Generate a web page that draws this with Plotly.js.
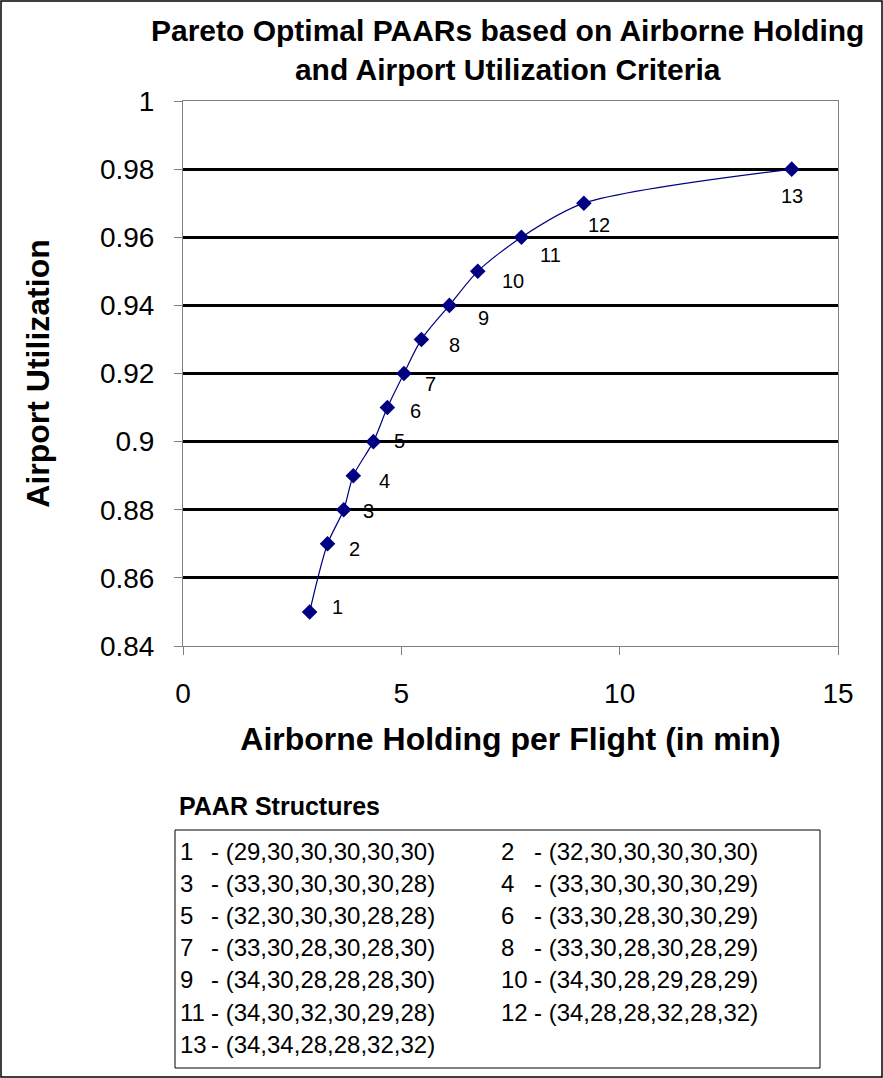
<!DOCTYPE html>
<html><head><meta charset="utf-8">
<script src="https://cdn.plot.ly/plotly-3.0.1.min.js"></script>
<style>html,body{margin:0;padding:0;background:#fff}#chart{width:883px;height:1078px}</style>
</head><body><div id="chart"></div>
<script>
// ---- data ----
const holding = [2.90, 3.31, 3.68, 3.90, 4.36, 4.68, 5.06, 5.46, 6.10, 6.75, 7.75, 9.18, 13.94];
const utilization = [0.85, 0.87, 0.88, 0.89, 0.90, 0.91, 0.92, 0.93, 0.94, 0.95, 0.96, 0.97, 0.98];
const pointLabels = ['1','2','3','4','5','6','7','8','9','10','11','12','13'];
const paarIds = ['1','2','3','4','5','6','7','8','9','10','11','12','13'];
const paarStructures = [
  '(29,30,30,30,30,30)', '(32,30,30,30,30,30)',
  '(33,30,30,30,30,28)', '(33,30,30,30,30,29)',
  '(32,30,30,30,28,28)', '(33,30,28,30,30,29)',
  '(33,30,28,30,28,30)', '(33,30,28,30,28,29)',
  '(34,30,28,28,28,30)', '(34,30,28,29,28,29)',
  '(34,30,32,30,29,28)', '(34,28,28,32,28,32)',
  '(34,34,28,28,32,32)'
];
const xTickVals = [0, 5, 10, 15];
const xTickText = ['0', '5', '10', '15'];
const yTickVals = [0.84, 0.86, 0.88, 0.90, 0.92, 0.94, 0.96, 0.98, 1.00];
const yTickText = ['0.84', '0.86', '0.88', '0.9', '0.92', '0.94', '0.96', '0.98', '1'];
const chartTitle = 'Pareto Optimal PAARs based on Airborne Holding<br>and Airport Utilization Criteria';
const legendTitle = 'PAAR Structures';

// ---- layout geometry (pixels) ----
const W = 883, H = 1078, L = 183, R = 45, T = 101, B = 432;
const pw = W - L - R, ph = H - T - B;
const px = x => (x - L) / pw;
const py = y => (H - B - y) / ph;
const FONT = 'Arial, "Liberation Sans", sans-serif';

// label offsets (px) relative to each point
const labelDX = [28, 27, 25, 31, 26, 28, 27, 33, 34, 35, 29, 15, 0];
const labelDY = [5, -5, -1, -5, 1, -3, -10, -6, -13, -10, -18, -22, -27];

const annotations = [];
pointLabels.forEach((t, i) => {
  annotations.push({
    x: holding[i], y: utilization[i], xref: 'x', yref: 'y',
    text: t, showarrow: false, xshift: labelDX[i], yshift: labelDY[i],
    font: {family: FONT, size: 20, color: '#000'}
  });
});

// chart title
annotations.push({
  xref: 'paper', yref: 'paper', x: px(507), y: py(12), xanchor: 'center', yanchor: 'top',
  text: '<b>' + chartTitle + '</b>', showarrow: false, align: 'center',
  font: {family: FONT, size: 30, color: '#000'}
});

// PAAR structures box
annotations.push({
  xref: 'paper', yref: 'paper', x: px(177), y: py(806), xanchor: 'left', yanchor: 'middle',
  text: '<b>' + legendTitle + '</b>', showarrow: false,
  font: {family: FONT, size: 25, color: '#000'}
});

const colNumX = [178, 499];
const colTextX = [209, 532];
const rowY0 = 851, rowStep = 32.2;
paarStructures.forEach((s, i) => {
  const col = i % 2, row = Math.floor(i / 2);
  const yy = py(rowY0 + row * rowStep);
  annotations.push({
    xref: 'paper', yref: 'paper', x: px(colNumX[col]), y: yy, xanchor: 'left', yanchor: 'middle',
    text: paarIds[i], showarrow: false, font: {family: FONT, size: 24, color: '#000'}
  });
  annotations.push({
    xref: 'paper', yref: 'paper', x: px(colTextX[col]), y: yy, xanchor: 'left', yanchor: 'middle',
    text: '- ' + s, showarrow: false, font: {family: FONT, size: 24, color: '#000'}
  });
});

const shapes = [
  {type: 'rect', xref: 'paper', yref: 'paper', x0: px(175), x1: px(820), y0: py(1068), y1: py(830),
   line: {color: '#000', width: 1}},
  {type: 'rect', xref: 'paper', yref: 'paper', x0: px(1), x1: px(882), y0: py(1077), y1: py(1),
   line: {color: '#000', width: 1.5}}
];

const trace = {
  x: holding, y: utilization, type: 'scatter', mode: 'lines+markers',
  line: {color: '#000080', width: 1.2, shape: 'spline', smoothing: 0.8},
  marker: {symbol: 'diamond', size: 12, color: '#000080'},
  hoverinfo: 'x+y'
};

const layout = {
  width: W, height: H,
  margin: {l: L, r: R, t: T, b: B, pad: 0},
  paper_bgcolor: '#fff', plot_bgcolor: '#fff',
  showlegend: false,
  xaxis: {
    range: [0, 15], tickvals: xTickVals, ticktext: xTickText,
    ticks: 'outside', ticklen: 8, tickcolor: '#808080', tickwidth: 1,
    showline: true, linecolor: '#808080', linewidth: 1, mirror: true,
    showgrid: false, zeroline: false, fixedrange: true,
    tickfont: {family: FONT, size: 28, color: '#000'}, ticklabelstandoff: 14,
    title: {text: '<b>Airborne Holding per Flight (in min)</b>', standoff: 20,
            font: {family: FONT, size: 32, color: '#000'}}
  },
  yaxis: {
    range: [0.84, 1.0], tickvals: yTickVals, ticktext: yTickText,
    ticks: 'outside', ticklen: 8, tickcolor: '#808080', tickwidth: 1,
    showline: true, linecolor: '#808080', linewidth: 1, mirror: true,
    showgrid: true, gridcolor: '#000', gridwidth: 2.5, zeroline: false, fixedrange: true,
    tickfont: {family: FONT, size: 28, color: '#000'}, ticklabelstandoff: 14,
    title: {text: '<b>Airport Utilization</b>', standoff: 40,
            font: {family: FONT, size: 32, color: '#000'}}
  },
  annotations: annotations,
  shapes: shapes
};

Plotly.newPlot('chart', [trace], layout, {displayModeBar: false});
</script>
</body></html>
